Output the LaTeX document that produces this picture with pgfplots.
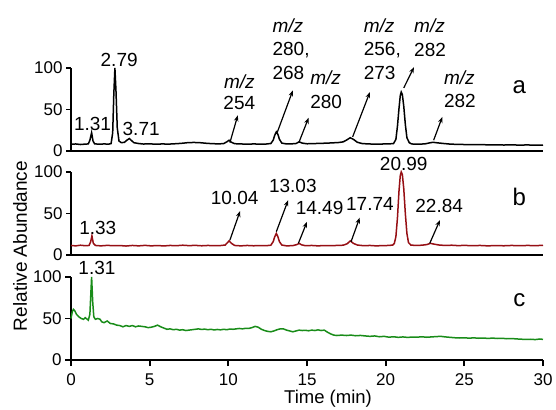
\documentclass[border=0pt]{standalone}
\usepackage{fontspec}
\setmainfont{Liberation Sans}
\usepackage{pgfplots}
\pgfplotsset{compat=1.18}
\usetikzlibrary{arrows.meta}

\definecolor{chromred}{RGB}{150,15,20}
\definecolor{chromgreen}{RGB}{25,140,25}

\pgfplotsset{
  chrom/.style={
    scale only axis, width=472pt, height=83pt,
    xmin=0, xmax=30, ymin=0, ymax=100,
    axis x line=bottom, axis y line=left,
    axis line style={-, line width=2.2pt},
    ytick={0,50,100},
    tick align=outside,
    major tick length=5pt,
    tick style={line width=1.8pt, black},
    ticklabel style={font=\fontsize{17}{19}\selectfont},
    /pgf/number format/assume math mode=true,
    clip=false,
    anchor=south west,
  },
}
\tikzset{
  ann/.style={font=\fontsize{19}{21}\selectfont, inner sep=0pt},
  arr/.style={-{Stealth[length=6pt,width=4.5pt]}, line width=1.2pt},
  tag/.style={font=\fontsize{24}{26}\selectfont, inner sep=0pt},
}

\begin{document}
\begin{tikzpicture}
\useasboundingbox (0,0) rectangle (556pt,409pt);

% panel a
\begin{axis}[chrom, at={(71pt,258pt)}, xtick=\empty]
\addplot[black, line width=1.5pt] coordinates {
(0,8)(0.3,8.5)(0.6,7.8)(0.9,8.3)(1.1,8.5)(1.2,13)(1.31,22)(1.4,12)(1.5,8.6)
(1.8,8.2)(2.1,8.5)(2.4,8.3)(2.55,9)(2.65,22)(2.72,68)(2.79,100)(2.86,72)
(2.94,28)(3.05,12)(3.2,10)(3.4,10.5)(3.55,13)(3.71,15)(3.85,12.5)(4.0,10)
(4.3,9)(4.6,8.4)(5.0,8.6)(5.4,8.2)(5.8,8.5)(6.2,8.3)(6.6,8.7)(7.0,9.2)
(7.4,10)(7.8,10.3)(8.2,10)(8.6,9.3)(9.0,8.8)(9.4,8.6)(9.7,8.9)(9.9,11)
(10.05,13)(10.2,10.5)(10.4,8.8)(10.8,8.5)(11.2,8.2)(11.6,8.5)(12.0,8.3)
(12.4,8.4)(12.7,9)(12.85,13)(12.95,19)(13.05,23)(13.15,20)(13.25,14)
(13.4,9.5)(13.7,8.5)(14.0,8.6)(14.3,9)(14.5,11)(14.7,9.5)(15.0,8.7)
(15.4,8.9)(15.8,9.2)(16.2,9.4)(16.6,9.8)(17.0,10.2)(17.3,11)(17.5,13)
(17.75,16)(17.95,14)(18.2,10.5)(18.5,9)(18.9,8.5)(19.3,8.3)(19.7,8.4)
(20.1,8.5)(20.4,8.8)(20.5,9)(20.65,14)(20.75,30)(20.85,52)(20.93,67)
(20.99,71)(21.06,68)(21.15,54)(21.25,32)(21.35,16)(21.5,10)(21.65,8.5)
(21.9,8.2)(22.2,8.3)(22.5,8.6)(22.8,9.8)(23.0,10.5)(23.3,9.8)(23.7,9)
(24.1,8.3)(24.5,8)(25,7.8)(25.5,7.6)(26,7.8)(26.5,7.4)(27,7.5)(27.5,7.2)
(28,7.4)(28.5,7.1)(29,7.3)(29.5,7)(30,7.2)
};
\node[ann] at (axis cs:1.37,33) {1.31};
\node[ann] at (axis cs:3.06,110) {2.79};
\node[ann] at (axis cs:4.46,26) {3.71};
\draw[arr] (axis cs:10.1,10) -- (axis cs:10.6,43);
\node[ann] at (axis cs:10.7,84) {\textit{m/z}};
\node[ann] at (axis cs:10.7,58) {254};
\draw[arr] (axis cs:13.1,22) -- (axis cs:14.1,73);
\node[ann, anchor=west] at (axis cs:12.8,151) {\textit{m/z}};
\node[ann, anchor=west] at (axis cs:12.8,122) {280,};
\node[ann, anchor=west] at (axis cs:12.8,94) {268};
\draw[arr] (axis cs:14.5,11) -- (axis cs:15.1,40);
\node[ann, anchor=west] at (axis cs:15.2,88) {\textit{m/z}};
\node[ann, anchor=west] at (axis cs:15.2,59) {280};
\draw[arr] (axis cs:17.9,17) -- (axis cs:19.0,71);
\node[ann, anchor=west] at (axis cs:18.6,151) {\textit{m/z}};
\node[ann, anchor=west] at (axis cs:18.6,122) {256,};
\node[ann, anchor=west] at (axis cs:18.6,94) {273};
\draw[arr] (axis cs:21.15,76) -- (axis cs:21.8,101);
\node[ann, anchor=west] at (axis cs:21.8,151) {\textit{m/z}};
\node[ann, anchor=west] at (axis cs:21.8,122) {282};
\draw[arr] (axis cs:23.05,13) -- (axis cs:23.6,41);
\node[ann, anchor=west] at (axis cs:23.7,88) {\textit{m/z}};
\node[ann, anchor=west] at (axis cs:23.7,60) {282};
\node[tag] at (axis cs:28.5,77) {a};
\end{axis}

% panel b
\begin{axis}[chrom, at={(71pt,154pt)}, xtick=\empty]
\addplot[chromred, line width=1.5pt] coordinates {
(0,11.5)(0.3,11)(0.6,11.8)(0.9,11.2)(1.15,11.5)(1.25,16)(1.33,23)(1.42,14)
(1.55,11.5)(1.9,11)(2.3,11.6)(2.7,11.2)(3.1,11.4)(3.5,10.8)(3.9,11.5)
(4.3,11)(4.7,11.6)(5.1,11)(5.5,11.4)(5.9,10.9)(6.3,11.5)(6.7,11.2)(7.1,11.8)
(7.5,11.3)(7.9,11.6)(8.3,11.1)(8.7,11.5)(9.1,11.2)(9.5,11.4)(9.8,12)
(9.95,15)(10.05,17)(10.2,14)(10.4,11.5)(10.8,11)(11.2,11.5)(11.6,11.1)
(12.0,11.4)(12.4,11.2)(12.7,11.8)(12.85,16)(12.95,22)(13.05,26)(13.15,22)
(13.25,16)(13.4,12)(13.7,11)(14.1,11.3)(14.35,12.5)(14.5,14)(14.65,12.3)
(14.9,11.2)(15.3,11.5)(15.7,11)(16.1,11.4)(16.5,11.2)(16.9,11.5)(17.3,11.8)
(17.55,13.5)(17.75,17)(17.95,14)(18.2,12)(18.6,11.2)(19,11.5)(19.4,11)
(19.8,11.3)(20.2,11.5)(20.45,12)(20.55,14)(20.65,22)(20.75,45)(20.85,78)
(20.93,96)(20.99,100)(21.06,97)(21.15,80)(21.25,50)(21.35,26)(21.45,15)
(21.6,12)(21.9,11.5)(22.3,11.8)(22.6,12.5)(22.85,14)(23.1,13)(23.4,12)
(23.8,11.5)(24.2,11.8)(24.6,11.3)(25,11.6)(25.5,11.2)(26,11.5)(26.5,11)
(27,11.4)(27.5,11.1)(28,11.5)(28.5,11.2)(29,11.5)(29.5,11.3)(30,11.6)
};
\node[ann] at (axis cs:1.7,32) {1.33};
\draw[arr] (axis cs:10.1,18) -- (axis cs:10.75,53);
\node[ann] at (axis cs:10.4,69) {10.04};
\draw[arr] (axis cs:13.05,28) -- (axis cs:13.8,66);
\node[ann] at (axis cs:14.1,83) {13.03};
\draw[arr] (axis cs:14.45,14) -- (axis cs:15.0,40);
\node[ann] at (axis cs:15.8,57) {14.49};
\draw[arr] (axis cs:17.8,16) -- (axis cs:18.35,45);
\node[ann] at (axis cs:19.0,62) {17.74};
\node[ann] at (axis cs:21.15,110) {20.99};
\draw[arr] (axis cs:22.8,14) -- (axis cs:23.45,42);
\node[ann] at (axis cs:23.4,59) {22.84};
\node[tag] at (axis cs:28.5,70) {b};
\end{axis}

% panel c
\begin{axis}[chrom, at={(71pt,49pt)}, xtick={0,5,...,30}, major tick length=6pt,
  xticklabel style={yshift=-4pt}]
\addplot[chromgreen, line width=1.5pt] coordinates {
(0,50)(0.08,58)(0.15,61)(0.25,59)(0.35,55)(0.5,52)(0.65,50)(0.8,49)(0.9,51)
(1.0,49.5)(1.1,48)(1.2,55)(1.31,100)(1.38,70)(1.45,52)(1.55,49)(1.7,50)
(1.85,49)(1.95,46)(2.1,45)(2.3,47)(2.5,44)(2.7,43.5)(2.9,42)(3.1,41.5)
(3.3,40)(3.5,41.5)(3.7,40.5)(3.9,41.5)(4.1,40)(4.3,41)(4.5,40.5)(4.7,40)
(4.9,39)(5.1,39.5)(5.3,40.5)(5.5,42)(5.7,40)(5.9,38.5)(6.1,37)(6.3,37.5)
(6.5,36.5)(6.7,37)(6.9,36)(7.1,36.5)(7.3,35.5)(7.5,36)(7.7,36.5)(7.9,37)
(8.1,37.5)(8.3,36.8)(8.5,37.2)(8.7,36.5)(8.9,37)(9.1,36.2)(9.3,36.8)
(9.5,36.3)(9.7,37)(9.9,36.5)(10.1,37.3)(10.3,37)(10.5,37.5)(10.7,38)
(10.9,37.5)(11.1,38.2)(11.3,38)(11.5,39)(11.7,40.5)(11.9,39.5)(12.1,37)
(12.3,35.5)(12.5,34.5)(12.7,34)(12.9,35)(13.1,36.5)(13.3,37.5)(13.5,37.5)
(13.7,36)(13.9,35)(14.1,34)(14.3,35)(14.5,36)(14.7,35.5)(14.9,35.8)
(15.1,35.2)(15.3,36)(15.5,35.5)(15.7,36.3)(15.9,35.5)(16.1,36)(16.3,33.5)
(16.5,31.5)(16.7,30)(16.9,29.5)(17.2,30)(17.5,29.5)(17.8,30)(18.1,29.2)
(18.4,29.6)(18.7,29)(19,28.5)(19.3,29)(19.6,28)(19.9,28.5)(20.2,27.5)
(20.5,28)(20.8,27.3)(21.1,27.8)(21.4,27.2)(21.7,27.7)(22,27.5)(22.3,28)
(22.6,27.4)(22.9,27.8)(23.2,28.2)(23.5,28.5)(23.8,27.8)(24.1,27.3)
(24.4,26.8)(24.7,26.5)(25,26.8)(25.3,26.3)(25.6,26.7)(25.9,26.2)(26.2,26.5)
(26.5,26)(26.8,26.4)(27.1,25.9)(27.4,26.2)(27.7,25.6)(28,25.9)(28.3,25.4)
(28.6,25.1)(28.9,24.7)(29.2,25)(29.5,24.6)(29.8,25.3)(30,24.8)
};
\node[ann] at (axis cs:1.65,111) {1.31};
\node[tag] at (axis cs:28.5,72) {c};
\end{axis}

\node[font=\fontsize{18.5}{20}\selectfont, inner sep=0pt] at (328pt,10pt) {Time (min)};
\node[font=\fontsize{19}{21}\selectfont, inner sep=0pt, rotate=90] at (20pt,163pt) {Relative Abundance};
\end{tikzpicture}
\end{document}
